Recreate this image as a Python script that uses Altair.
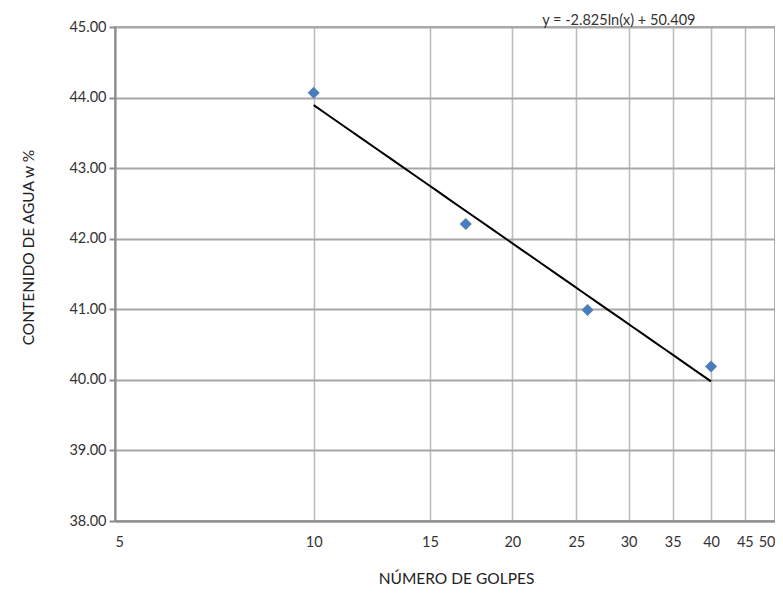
import altair as alt
import pandas as pd

golpes = [10, 17, 26, 40]
contenido = [44.07, 42.21, 40.99, 40.19]
x_ticks = [5, 10, 15, 20, 25, 30, 35, 40, 45, 50]
y_ticks = [38, 39, 40, 41, 42, 43, 44, 45]
equation = "y = -2.825ln(x) + 50.409"

df = pd.DataFrame({"golpes": golpes, "contenido": contenido})

FONT = "Lato"

x_scale = alt.Scale(type="log", domain=[5, 50], nice=False)
y_scale = alt.Scale(domain=[38, 45], nice=False, zero=False)

x_enc = alt.X(
    "golpes:Q",
    scale=x_scale,
    axis=alt.Axis(
        values=x_ticks, format="d", title="NÚMERO DE GOLPES",
        grid=True, gridColor="#bdbdbd", gridWidth=1.6,
        ticks=False, labelPadding=14, labelFontSize=14.5, labelColor="#333333",
        labelFont=FONT, domainColor="#8c8c8c", domainWidth=2,
        titleFont=FONT, titleFontSize=15.5, titleFontWeight="normal", titleColor="#222222",
        titleX=341, titleY=57, titleBaseline="middle", titleAlign="center",
    ),
)
y_enc = alt.Y(
    "contenido:Q",
    scale=y_scale,
    axis=alt.Axis(
        values=y_ticks, format=".2f", title="CONTENIDO DE AGUA w %",
        grid=True, gridColor="#a8a8a8", gridWidth=2,
        tickSize=6, tickColor="#8c8c8c", tickWidth=2, labelPadding=3,
        labelFontSize=14.5, labelColor="#333333", labelFont=FONT,
        domainColor="#8c8c8c", domainWidth=2,
        titleFont=FONT, titleFontSize=15.5, titleFontWeight="normal", titleColor="#222222",
        titleX=-87, titleY=220, titleAngle=270, titleBaseline="middle", titleAlign="center",
    ),
)

points = alt.Chart(df).mark_point(
    shape="diamond", filled=True, size=144, color="#4a7ebb", opacity=1
).encode(x=x_enc, y=y_enc)

trend = alt.Chart(df).transform_regression(
    "golpes", "contenido", method="log"
).mark_line(color="#000000", strokeWidth=2).encode(
    x=alt.X("golpes:Q", scale=x_scale),
    y=alt.Y("contenido:Q", scale=y_scale),
)

label = alt.Chart(pd.DataFrame({"t": [equation]})).mark_text(
    font=FONT, fontSize=14.5, color="#333333", baseline="middle", align="center"
).encode(x=alt.datum(29), y=alt.datum(45.09), text="t:N")

chart = alt.layer(trend, points, label).properties(
    width=660, height=494,
    autosize=alt.AutoSizeParams(type="none"),
    padding={"left": 107, "top": 19, "right": 0, "bottom": 66},
).configure_view(stroke="#a8a8a8", strokeWidth=2)

chart.save("out.html", embed_options={"renderer": "svg", "actions": False})
